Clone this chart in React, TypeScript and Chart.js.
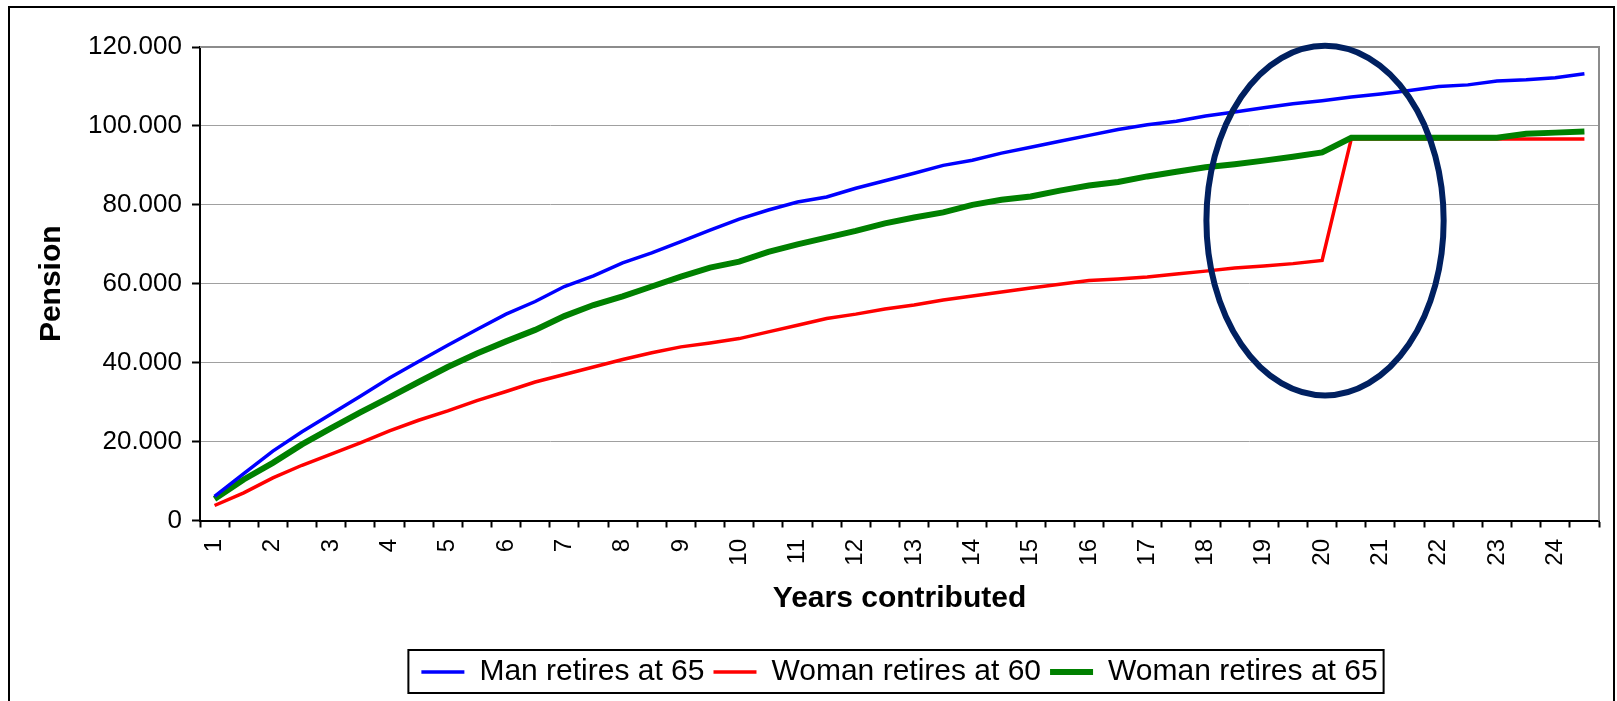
import { useEffect, useRef } from "react";
import { Chart, registerables } from "chart.js";

Chart.register(...registerables);

// Category labels (two categories per labelled year, as in the original sheet)
const categories = [
  "1", "", "2", "", "3", "", "4", "", "5", "", "6", "", "7", "", "8", "",
  "9", "", "10", "", "11", "", "12", "", "13", "", "14", "", "15", "", "16", "",
  "17", "", "18", "", "19", "", "20", "", "21", "", "22", "", "23", "", "24", "",
];

const manAt65 = [
  6100, 11900, 17600, 22500, 27000, 31500, 36100, 40300, 44400, 48400, 52300, 55500,
  59300, 62000, 65300, 67800, 70700, 73600, 76400, 78700, 80700, 82000, 84200, 86100,
  88000, 90000, 91300, 93100, 94600, 96100, 97600, 99100, 100300, 101200, 102500, 103500,
  104600, 105600, 106400, 107300, 108100, 109000, 110000, 110400, 111400, 111700, 112200, 113200,
];

const womanAt60 = [
  3800, 7000, 10800, 14000, 16800, 19700, 22700, 25400, 27800, 30400, 32700, 35100,
  37000, 38900, 40800, 42500, 44000, 45000, 46100, 47800, 49500, 51200, 52300, 53600,
  54600, 55900, 56900, 57900, 58900, 59900, 60800, 61200, 61700, 62500, 63200, 64000,
  64500, 65100, 65900, 96700, 96700, 96700, 96700, 96700, 96700, 96700, 96700, 96700,
];

const womanAt65 = [
  5450, 10400, 14600, 19300, 23400, 27400, 31200, 35100, 38900, 42300, 45400, 48300,
  51800, 54600, 56800, 59300, 61800, 64100, 65600, 68100, 70000, 71700, 73400, 75300,
  76800, 78100, 80000, 81300, 82100, 83600, 84900, 85800, 87200, 88400, 89500, 90300,
  91200, 92200, 93300, 97000, 97000, 97000, 97000, 97000, 97000, 98000, 98300, 98600,
];

const seriesNames = ["Man retires at 65", "Woman retires at 60", "Woman retires at 65"];
const seriesColors = ["#0000ff", "#ff0000", "#008000"];

const yMin = 0;
const yMax = 120000;
const yStep = 20000;

// Highlight ellipse (in category index / value units)
const highlightIndex = 38.1;
const highlightValue = 76000;
const highlightHalfWidthCats = 4.07;
const highlightHalfHeightValue = 44300;

const FONT = "'Liberation Sans', Arial, Helvetica, sans-serif";

const formatPension = (v: number) =>
  v === 0 ? "0" : Math.round(v / 1000).toString() + ".000";

const framePlugin = {
  id: "frameDecor",
  beforeDraw(chart: any) {
    const ctx = chart.ctx;
    ctx.save();
    ctx.fillStyle = "#ffffff";
    ctx.fillRect(0, 0, chart.width, chart.height);
    ctx.restore();
  },
  afterLayout(chart: any) {
    const lg = chart.legend;
    const ca = chart.chartArea;
    if (lg && ca) {
      lg.left = ca.left;
      lg.right = ca.right;
      lg.width = ca.right - ca.left;
    }
  },
  afterDatasetsDraw(chart: any) {
    const ctx = chart.ctx;
    const ca = chart.chartArea;
    const xs = chart.scales.x;
    const ys = chart.scales.y;
    ctx.save();
    // plot area border (top & right)
    ctx.fillStyle = "#8c8c8c";
    ctx.fillRect(ca.left, ca.top - 1, ca.right - ca.left + 1, 2);
    ctx.fillRect(ca.right - 1, ca.top - 1, 2, ca.bottom - ca.top + 1);
    // highlight ellipse
    const x0 = xs.getPixelForValue(0);
    const catW = xs.getPixelForValue(1) - x0;
    const cx = x0 + highlightIndex * catW;
    const cy = ys.getPixelForValue(highlightValue);
    const ry = Math.abs(ys.getPixelForValue(highlightValue + highlightHalfHeightValue) - cy);
    ctx.beginPath();
    ctx.ellipse(cx, cy, highlightHalfWidthCats * catW, ry, 0, 0, Math.PI * 2);
    ctx.lineWidth = 6;
    ctx.strokeStyle = "#002060";
    ctx.stroke();
    ctx.restore();
  },
  afterDraw(chart: any) {
    const ctx = chart.ctx;
    ctx.save();
    // legend frame
    const lg = chart.legend;
    if (lg && lg.legendHitBoxes && lg.legendHitBoxes.length) {
      const hb = lg.legendHitBoxes;
      const first = hb[0];
      const last = hb[hb.length - 1];
      const l = first.left - 13;
      const r = last.left + last.width + 6;
      const t = first.top - 7;
      const b = first.top + first.height + 6;
      ctx.strokeStyle = "#000";
      ctx.lineWidth = 2;
      ctx.strokeRect(l, t, r - l, b - t);
    }
    // outer frame
    ctx.fillStyle = "#000";
    ctx.fillRect(8, 6, 2, chart.height);
    ctx.fillRect(8, 6, 1607, 2);
    ctx.fillRect(1613, 6, 2, chart.height);
    ctx.restore();
  },
};

export default function App() {
  const ref = useRef<HTMLCanvasElement>(null);

  useEffect(() => {
    const canvas = ref.current;
    if (!canvas) return;
    const chart = new Chart(canvas, {
      type: "line",
      data: {
        labels: categories,
        datasets: [
          {
            label: seriesNames[0],
            data: manAt65,
            borderColor: seriesColors[0],
            backgroundColor: seriesColors[0],
            borderWidth: 3.5,
            pointRadius: 0,
            tension: 0,
            order: 0,
          },
          {
            label: seriesNames[1],
            data: womanAt60,
            borderColor: seriesColors[1],
            backgroundColor: seriesColors[1],
            borderWidth: 3.5,
            pointRadius: 0,
            tension: 0,
            order: 2,
          },
          {
            label: seriesNames[2],
            data: womanAt65,
            borderColor: seriesColors[2],
            backgroundColor: seriesColors[2],
            borderWidth: 6,
            pointRadius: 0,
            tension: 0,
            order: 1,
          },
        ],
      },
      options: {
        responsive: false,
        animation: false,
        devicePixelRatio: 1,
        layout: { padding: { left: 0, right: 18, top: 47, bottom: 4 } },
        font: { family: FONT },
        plugins: {
          legend: {
            position: "bottom",
            labels: {
              usePointStyle: true,
              pointStyle: "line",
              pointStyleWidth: 43,
              padding: 9,
              color: "#000",
              font: { size: 30, family: FONT },
              sort: (a: any, b: any) => a.datasetIndex - b.datasetIndex,
            },
          },
          tooltip: { enabled: false },
        },
        scales: {
          x: {
            type: "category",
            offset: true,
            grid: {
              display: true,
              drawOnChartArea: false,
              offset: true,
              drawTicks: true,
              tickLength: 7,
              tickColor: "#000",
              tickWidth: 2,
            },
            border: { display: true, color: "#000", width: 2 },
            ticks: {
              autoSkip: false,
              maxRotation: 90,
              minRotation: 90,
              padding: 11.5,
              labelOffset: 0,
              color: "#000",
              font: { size: 24, lineHeight: 1.2, family: FONT },
            },
            title: {
              display: true,
              text: "Years contributed",
              color: "#000",
              font: { size: 30, weight: "bold", lineHeight: 1.2, family: FONT },
              padding: { top: 0, bottom: 31 },
            },
            afterFit: (s: any) => {
              s.height = 127.5;
              s.paddingLeft = 0;
              s.paddingRight = 0;
            },
          },
          y: {
            min: yMin,
            max: yMax,
            ticks: {
              stepSize: yStep,
              padding: 10,
              color: "#000",
              font: { size: 26, family: FONT },
              callback: (v: any) => formatPension(Number(v)),
            },
            grid: {
              color: "#a0a0a0",
              lineWidth: 1,
              tickLength: 8,
              tickColor: "#000",
              tickWidth: 2,
            },
            border: { display: true, color: "#000", width: 2 },
            title: {
              display: true,
              text: "Pension",
              color: "#000",
              font: { size: 30, weight: "bold", lineHeight: 1.2, family: FONT },
              padding: { top: 34, bottom: 0 },
            },
            afterFit: (s: any) => {
              s.width = 200;
            },
          },
        },
      },
      plugins: [framePlugin],
    } as any);
    return () => chart.destroy();
  }, []);

  return (
    <canvas
      ref={ref}
      width={1617}
      height={701}
      style={{ position: "fixed", left: 0, top: 0, width: 1617, height: 701, display: "block" }}
    />
  );
}
